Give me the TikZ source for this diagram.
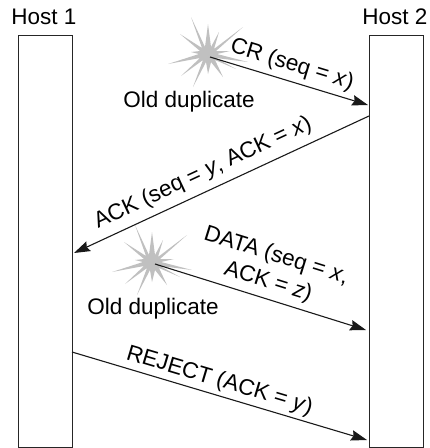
\documentclass[tikz,border=0pt]{standalone}
\usepackage{fontspec}
\setmainfont{Liberation Sans}
\usetikzlibrary{arrows.meta}
\definecolor{burstgray}{RGB}{192,192,192}
\tikzset{
  hostbox/.style={draw=black!85,line width=1.3pt,fill=white,inner sep=0pt,minimum width=54pt,minimum height=412pt,anchor=north west},
  lbl/.style={font=\fontsize{22.5}{27}\selectfont,inner sep=0pt,text=black},
  msg/.style={line width=1.1pt,draw=black!90},
  msga/.style={msg,-{Stealth[length=16pt,width=10.5pt,inset=2pt]}},
  burst/.pic={
    \fill[burstgray]
      (-17,37)--(-3,7)--(0,30)--(3,7)--(11,22)--(6,5)--(35,27)--(8,3)--(22,3)--(9,0)--(40,-8)--(8,-4)--(28,-15)--(7,-6)--(15,-23)--(3,-8)--(0,-20)--(-2,-8)--(-15,-33)--(-5,-6)--(-27,-22)--(-8,-4)--(-40,-10)--(-9,0)--(-17,2)--(-8,3)--(-28,20)--(-6,6)--cycle;
  }
}
\begin{document}
\begin{tikzpicture}[x=1pt,y=1pt]
\useasboundingbox (0,0) rectangle (430,-448);
\node[hostbox] (h1) at (18,-35) {};
\node[hostbox] (h2) at (369,-35) {};
\node[lbl,anchor=base] (t1) at (44,-24) {Host 1};
\node[lbl,anchor=base] (t2) at (395,-24) {Host 2};

\pic at (208,-54) {burst};
\pic at (152,-262) {burst};

\coordinate (a0) at (210,-57);  \coordinate (a1) at (368,-105);
\coordinate (b0) at (369,-116); \coordinate (b1) at (74,-253);
\coordinate (c0) at (155,-264); \coordinate (c1) at (366,-330);
\coordinate (d0) at (72,-352);  \coordinate (d1) at (367,-440);
\draw[msga] (a0)--(a1);
\draw[msga] (b0)--(b1);
\draw[msga] (c0)--(c1);
\draw[msga] (d0)--(d1);

\node[lbl,rotate=-17] (l1) at (292,-65) {CR (seq = \textit{x})};
\node[lbl,anchor=base] (o1) at (189,-107) {Old duplicate};
\node[lbl,rotate=25] (l2) at (203,-173) {ACK (seq = \textit{y}, ACK = \textit{x})};
\node[lbl,rotate=-17.4] (l3) at (276,-256) {DATA (seq = \textit{x},};
\node[lbl,rotate=-17.4] (l4) at (268,-282) {ACK = \textit{z})};
\node[lbl,anchor=base] (o2) at (153,-314) {Old duplicate};
\node[lbl,rotate=-16.6] (l5) at (219.5,-381) {REJECT (ACK = \textit{y})};
\end{tikzpicture}
\end{document}
